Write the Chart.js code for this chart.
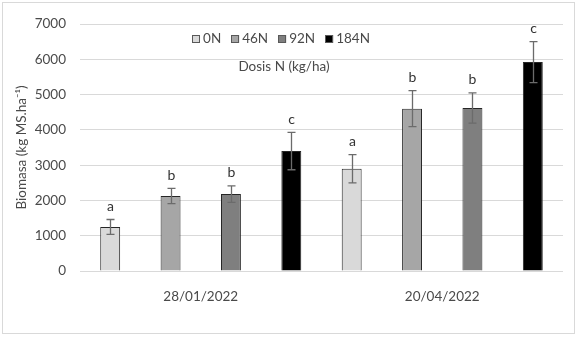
<!DOCTYPE html>
<html>
<head>
<meta charset="utf-8">
<script src="https://cdn.jsdelivr.net/npm/chart.js@4.4.1/dist/chart.umd.min.js"></script>
<style>
  html, body { margin: 0; padding: 0; background: #fff; }
  #wrap { width: 577px; height: 338px; position: relative; }
</style>
</head>
<body>
<div id="wrap"><canvas id="chart" width="577" height="338"></canvas></div>
<script>
const categories = ['28/01/2022', '20/04/2022'];
const seriesNames = ['0N', '46N', '92N', '184N'];
const seriesColors = ['#d9d9d9', '#a6a6a6', '#7f7f7f', '#000000'];

const biomass0N = [1250, 2900];
const biomass46N = [2125, 4600];
const biomass92N = [2180, 4620];
const biomass184N = [3400, 5920];

const err0N = [210, 400];
const err46N = [215, 510];
const err92N = [235, 430];
const err184N = [530, 580];

const letters0N = ['a', 'a'];
const letters46N = ['b', 'b'];
const letters92N = ['b', 'b'];
const letters184N = ['c', 'c'];

const yTicks = [0, 1000, 2000, 3000, 4000, 5000, 6000, 7000];

const values = [biomass0N, biomass46N, biomass92N, biomass184N];
const errors = [err0N, err46N, err92N, err184N];
const letters = [letters0N, letters46N, letters92N, letters184N];

const FONT = 'Lato, "Open Sans", sans-serif';
const TEXT = '#4a4a4a';

const framePlugin = {
  id: 'frame',
  beforeDraw: chart => {
    const ctx = chart.ctx;
    ctx.save();
    ctx.fillStyle = '#fff';
    ctx.fillRect(0, 0, chart.width, chart.height);
    ctx.strokeStyle = '#d9d9d9';
    ctx.lineWidth = 1;
    ctx.strokeRect(2.5, 2.5, 572, 331);
    ctx.restore();
  }
};

const errorBarPlugin = {
  id: 'errorBars',
  afterDatasetsDraw: chart => {
    const ctx = chart.ctx;
    const y = chart.scales.y;
    ctx.save();
    chart.data.datasets.forEach((ds, di) => {
      const meta = chart.getDatasetMeta(di);
      meta.data.forEach((bar, i) => {
        const v = ds.data[i];
        const e = errors[di][i];
        const top = y.getPixelForValue(v + e);
        const bot = y.getPixelForValue(v - e);
        const x = Math.round(bar.x) + 0.5;
        ctx.strokeStyle = '#6b6b6b';
        ctx.lineWidth = 1.3;
        ctx.beginPath();
        ctx.moveTo(x, top); ctx.lineTo(x, bot);
        ctx.moveTo(x - 4, top); ctx.lineTo(x + 4, top);
        ctx.moveTo(x - 4, bot); ctx.lineTo(x + 4, bot);
        ctx.stroke();

        ctx.fillStyle = '#333';
        ctx.font = '14px ' + FONT;
        ctx.textAlign = 'center';
        ctx.textBaseline = 'middle';
        ctx.fillText(letters[di][i], x, top - 13);
      });
    });
    ctx.restore();
  }
};

const legendPlugin = {
  id: 'insideLegend',
  afterDraw: chart => {
    const ctx = chart.ctx;
    ctx.save();
    ctx.font = '13.5px ' + FONT;
    ctx.textBaseline = 'middle';
    ctx.textAlign = 'left';
    const box = 8, gap = 3, itemGap = 10;
    const widths = chart.data.datasets.map(ds => box + gap + ctx.measureText(ds.label).width);
    const total = widths.reduce((a, b) => a + b, 0) + itemGap * (widths.length - 1);
    let x = 281 - total / 2;
    const yc = 39;
    chart.data.datasets.forEach((ds, i) => {
      ctx.fillStyle = ds.backgroundColor;
      ctx.fillRect(x, yc - box / 2, box, box);
      ctx.strokeStyle = '#595959';
      ctx.lineWidth = 1;
      ctx.strokeRect(Math.round(x) + 0.5, Math.round(yc - box / 2) + 0.5, box - 1, box - 1);
      ctx.fillStyle = TEXT;
      ctx.fillText(ds.label, x + box + gap, yc);
      x += widths[i] + itemGap;
    });
    ctx.textAlign = 'center';
    ctx.fillText('Dosis N (kg/ha)', 284, 67);
    ctx.restore();
  }
};

new Chart(document.getElementById('chart'), {
  type: 'bar',
  data: {
    labels: categories,
    datasets: seriesNames.map((name, i) => ({
      label: name,
      data: values[i],
      backgroundColor: seriesColors[i],
      borderColor: '#262626',
      borderWidth: 1,
      categoryPercentage: 1,
      barPercentage: 0.33
    }))
  },
  options: {
    responsive: false,
    animation: false,
    layout: { padding: { left: 0, right: 14, top: 24, bottom: 0 } },
    plugins: {
      legend: { display: false },
      tooltip: { enabled: false }
    },
    scales: {
      x: {
        grid: { display: false },
        border: { display: false },
        ticks: { color: TEXT, font: { family: FONT, size: 13.5 }, padding: 10 },
        afterFit: scale => { scale.height = 67; }
      },
      y: {
        min: 0,
        max: 7000,
        afterBuildTicks: scale => { scale.ticks = yTicks.map(v => ({ value: v })); },
        grid: { color: '#d9d9d9', drawTicks: false },
        border: { display: false },
        ticks: {
          color: TEXT,
          font: { family: FONT, size: 13.5 },
          padding: 14,
          callback: value => String(value)
        },
        title: {
          display: true,
          text: 'Biomasa (kg MS.ha⁻¹)',
          color: TEXT,
          font: { family: FONT, size: 13.5 },
          padding: { top: 14, bottom: 0 }
        },
        afterFit: scale => { scale.width = 80; }
      }
    }
  },
  plugins: [framePlugin, errorBarPlugin, legendPlugin]
});
</script>
</body>
</html>
